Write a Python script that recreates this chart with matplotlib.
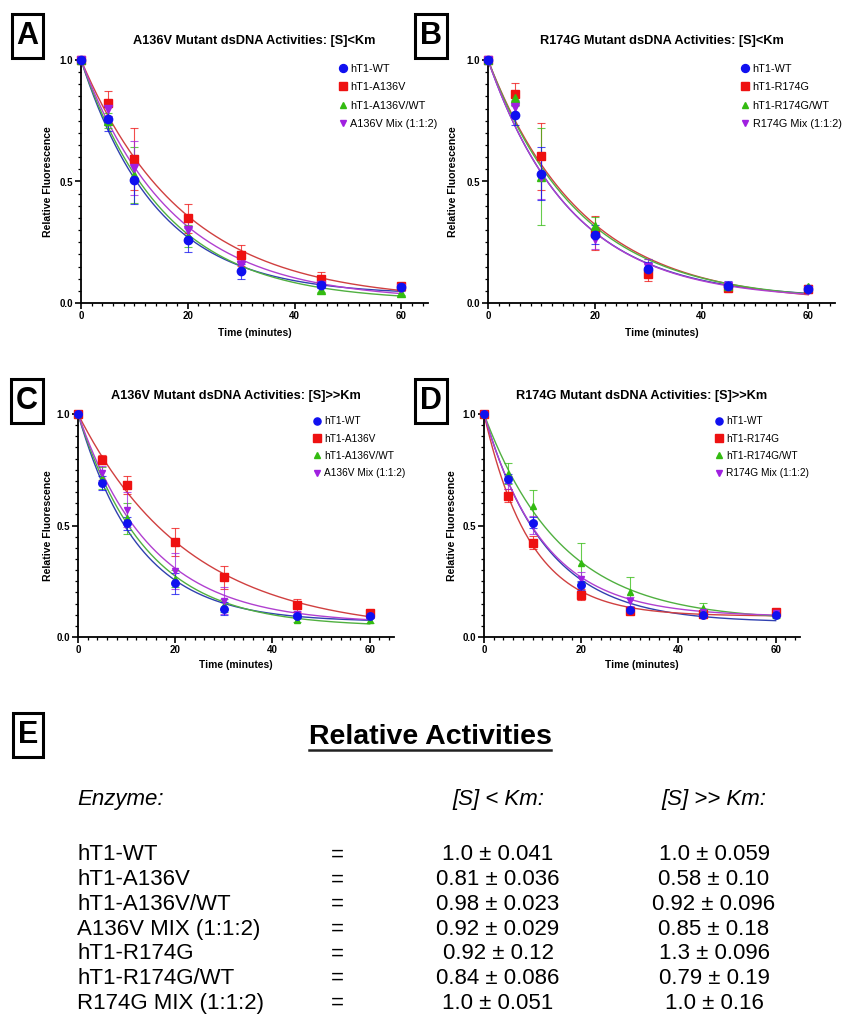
import numpy as np
import matplotlib
matplotlib.use("Agg")
import matplotlib.pyplot as plt
from matplotlib.patches import Rectangle
from matplotlib.lines import Line2D
from matplotlib.ticker import MultipleLocator, FormatStrFormatter

plt.rcParams['font.family'] = ['Liberation Sans', 'DejaVu Sans']

# ---------------- data ----------------
time_min = [0, 5, 10, 20, 30, 45, 60]

# Panel A: A136V, [S]<Km
A_wt = [1.0, 0.757, 0.507, 0.258, 0.130, 0.075, 0.066]
A_wt_err = [0, 0.05, 0.10, 0.05, 0.03, 0.012, 0.01]
A_mut = [1.0, 0.822, 0.593, 0.349, 0.196, 0.099, 0.068]
A_mut_err = [0, 0.052, 0.126, 0.06, 0.044, 0.027, 0.01]
A_het = [1.0, 0.750, 0.527, 0.274, 0.150, 0.055, 0.040]
A_het_err = [0, 0.03, 0.117, 0.045, 0.02, 0.01, 0.008]
A_mix = [1.0, 0.800, 0.555, 0.300, 0.157, 0.075, 0.060]
A_mix_err = [0, 0.03, 0.11, 0.05, 0.02, 0.012, 0.01]

# Panel B: R174G, [S]<Km
B_wt = [1.0, 0.774, 0.532, 0.281, 0.140, 0.071, 0.058]
B_wt_err = [0, 0.04, 0.11, 0.04, 0.03, 0.02, 0.015]
B_mut = [1.0, 0.860, 0.603, 0.288, 0.120, 0.062, 0.058]
B_mut_err = [0, 0.047, 0.137, 0.07, 0.03, 0.01, 0.01]
B_het = [1.0, 0.842, 0.520, 0.315, 0.150, 0.068, 0.066]
B_het_err = [0, 0.03, 0.20, 0.04, 0.03, 0.015, 0.01]
B_mix = [1.0, 0.805, 0.520, 0.263, 0.150, 0.068, 0.055]
B_mix_err = [0, 0.03, 0.09, 0.04, 0.03, 0.015, 0.01]

# Panel C: A136V, [S]>>Km
C_wt = [1.0, 0.690, 0.510, 0.240, 0.127, 0.094, 0.093]
C_wt_err = [0, 0.03, 0.03, 0.045, 0.03, 0.01, 0.01]
C_mut = [1.0, 0.795, 0.682, 0.427, 0.267, 0.142, 0.108]
C_mut_err = [0, 0.02, 0.04, 0.063, 0.053, 0.03, 0.01]
C_het = [1.0, 0.712, 0.532, 0.262, 0.142, 0.078, 0.075]
C_het_err = [0, 0.05, 0.068, 0.04, 0.03, 0.01, 0.01]
C_mix = [1.0, 0.735, 0.570, 0.297, 0.162, 0.105, 0.096]
C_mix_err = [0, 0.03, 0.078, 0.08, 0.06, 0.01, 0.01]

# Panel D: R174G, [S]>>Km
D_wt = [1.0, 0.709, 0.513, 0.232, 0.120, 0.097, 0.097]
D_wt_err = [0, 0.02, 0.025, 0.02, 0.01, 0.008, 0.008]
D_mut = [1.0, 0.634, 0.423, 0.190, 0.115, 0.105, 0.112]
D_mut_err = [0, 0.03, 0.03, 0.025, 0.01, 0.01, 0.01]
D_het = [1.0, 0.732, 0.588, 0.333, 0.202, 0.130, 0.097]
D_het_err = [0, 0.048, 0.069, 0.087, 0.067, 0.023, 0.01]
D_mix = [1.0, 0.694, 0.502, 0.262, 0.160, 0.112, 0.108]
D_mix_err = [0, 0.03, 0.04, 0.03, 0.02, 0.01, 0.01]

labels_A = ['hT1-WT', 'hT1-A136V', 'hT1-A136V/WT', 'A136V Mix (1:1:2)']
labels_R = ['hT1-WT', 'hT1-R174G', 'hT1-R174G/WT', 'R174G Mix (1:1:2)']

titles = ['A136V Mutant dsDNA Activities: [S]<Km',
          'R174G Mutant dsDNA Activities: [S]<Km',
          'A136V Mutant dsDNA Activities: [S]>>Km',
          'R174G Mutant dsDNA Activities: [S]>>Km']

# table (panel E)
table_enzymes = ['hT1-WT', 'hT1-A136V', 'hT1-A136V/WT', 'A136V MIX (1:1:2)',
                 'hT1-R174G', 'hT1-R174G/WT', 'R174G MIX (1:1:2)']
table_low = ['1.0 ± 0.041', '0.81 ± 0.036', '0.98 ± 0.023', '0.92 ± 0.029',
             '0.92 ± 0.12', '0.84 ± 0.086', '1.0 ± 0.051']
table_high = ['1.0 ± 0.059', '0.58 ± 0.10', '0.92 ± 0.096', '0.85 ± 0.18',
              '1.3 ± 0.096', '0.79 ± 0.19', '1.0 ± 0.16']

# ---------------- style ----------------
colors = ['#1010F0', '#EE1111', '#33BB11', '#A020E0']
curve_colors = ['#3040B0', '#D04040', '#50B040', '#B040D0']
markers = ['o', 's', '^', 'v']

W, H = 846, 1017
fig = plt.figure(figsize=(W / 100, H / 100), dpi=100)


def fx(x):
    return x / W


def fy(y):
    return 1 - y / H


def fit_decay(t, y):
    """One-phase decay from 1.0 to a plateau p >= 0, least squares."""
    t = np.asarray(t, float)
    y = np.asarray(y, float)
    best = None
    for k in np.linspace(0.005, 0.4, 2000):
        e = np.exp(-k * t)
        d = 1 - e
        p = max(0.0, np.sum((y - e) * d) / np.sum(d * d))
        r = np.sum((e + p * d - y) ** 2)
        if best is None or r < best[0]:
            best = (r, k, p)
    return best[1], best[2]


def make_panel(rect, series, errs, labels, title, msize, fs_leg, leg_xy, leg_sp, ylab_x):
    ax = fig.add_axes(rect)
    tt = np.linspace(0, 60, 300)
    order = [1, 2, 3, 0]
    for i in order:
        k, p = fit_decay(time_min, series[i])
        ax.plot(tt, p + (1 - p) * np.exp(-k * tt), color=curve_colors[i], lw=1.0,
                zorder=2 + i * 0.1, clip_on=False)
    for i in order:
        z = 3 + (0.5 if i == 0 else i * 0.1)
        ax.errorbar(time_min, series[i], yerr=errs[i], fmt='none', ecolor=colors[i],
                    elinewidth=0.8, capsize=3, capthick=0.8, alpha=0.75, zorder=z,
                    clip_on=False)
    handles = []
    for i in order:
        z = 4 + (0.5 if i == 0 else i * 0.1)
        ms = msize * (0.85 if markers[i] in ('^', 'v') else 1.0)
        ax.plot(time_min, series[i], linestyle='none', marker=markers[i], ms=ms,
                color=colors[i], mec=colors[i], zorder=z, clip_on=False)
    for i in range(4):
        ms = msize * (0.85 if markers[i] in ('^', 'v') else 1.0)
        handles.append(Line2D([], [], linestyle='none', marker=markers[i], ms=ms * 0.95,
                              color=colors[i], label=labels[i]))
    ax.set_xlim(0, 65)
    ax.set_ylim(0, 1.0)
    for s in ['top', 'right']:
        ax.spines[s].set_visible(False)
    for s in ['left', 'bottom']:
        ax.spines[s].set_linewidth(1.3)
    ax.xaxis.set_major_locator(MultipleLocator(20))
    ax.xaxis.set_minor_locator(MultipleLocator(2))
    ax.yaxis.set_major_locator(MultipleLocator(0.5))
    ax.yaxis.set_minor_locator(MultipleLocator(0.05))
    ax.yaxis.set_major_formatter(FormatStrFormatter('%.1f'))
    ax.tick_params(which='major', direction='out', length=4, width=1.2, pad=1.5,
                   labelsize=7)
    ax.tick_params(which='minor', direction='out', length=2.3, width=0.9)
    for lab in ax.get_xticklabels() + ax.get_yticklabels():
        lab.set_fontweight('bold')
    ax.set_ylabel('Relative Fluorescence', fontsize=7.6, fontweight='bold')
    ax.set_xlabel('Time (minutes)', fontsize=7.4, fontweight='bold')
    ax.yaxis.set_label_coords(ylab_x, 0.5)
    ax.xaxis.set_label_coords(0.5, -0.103)
    ax.text(0.5, 1.08, title, transform=ax.transAxes, ha='center', va='center',
            fontsize=9.2, fontweight='bold')
    ax.legend(handles=handles, loc='upper left', bbox_to_anchor=leg_xy, frameon=False,
              fontsize=fs_leg, handlelength=0.8, handletextpad=0.3, borderpad=0,
              borderaxespad=0, labelspacing=leg_sp)
    return ax


def panel_box(x0, y0, x1, y1, letter, fs=22):
    fig.patches.append(Rectangle((fx(x0), fy(y1)), fx(x1) - fx(x0), fy(y0) - fy(y1),
                                 transform=fig.transFigure, fill=False, ec='black',
                                 lw=2.2))
    fig.text(fx((x0 + x1) / 2), fy((y0 + y1) / 2), letter, ha='center', va='center',
             fontsize=fs, fontweight='bold')


# axes rects (left, bottom, width, height) in figure fraction
rectA = [fx(81), fy(303), fx(428) - fx(81), fy(60) - fy(303)]
rectB = [fx(488), fy(303), fx(835) - fx(488), fy(60) - fy(303)]
rectC = [fx(78), fy(637), fx(394) - fx(78), fy(414) - fy(637)]
rectD = [fx(484), fy(637), fx(800) - fx(484), fy(414) - fy(637)]

make_panel(rectA, [A_wt, A_mut, A_het, A_mix], [A_wt_err, A_mut_err, A_het_err, A_mix_err],
           labels_A, titles[0], 6.0, 7.8, (0.742, 0.985), 0.78, -0.081)
make_panel(rectB, [B_wt, B_mut, B_het, B_mix], [B_wt_err, B_mut_err, B_het_err, B_mix_err],
           labels_R, titles[1], 6.0, 7.8, (0.728, 0.985), 0.78, -0.086)
make_panel(rectC, [C_wt, C_mut, C_het, C_mix], [C_wt_err, C_mut_err, C_het_err, C_mix_err],
           labels_A, titles[2], 5.4, 7.3, (0.744, 0.99), 0.72, -0.079)
make_panel(rectD, [D_wt, D_mut, D_het, D_mix], [D_wt_err, D_mut_err, D_het_err, D_mix_err],
           labels_R, titles[3], 5.4, 7.3, (0.731, 0.99), 0.72, -0.085)

panel_box(12, 14, 43, 58, 'A')
panel_box(415, 14, 447, 58, 'B')
panel_box(11, 379, 43, 423, 'C')
panel_box(415, 379, 447, 423, 'D')
panel_box(13, 713, 43, 757, 'E')

# ---------------- panel E: table ----------------
t_title = fig.text(fx(430), fy(737), 'Relative Activities', ha='center', va='center',
                   fontsize=20.5, fontweight='bold')
fig.text(fx(77), fy(800), 'Enzyme:', ha='left', va='center', fontsize=16, style='italic')
fig.text(fx(498), fy(800), '[S] < Km:', ha='center', va='center', fontsize=16, style='italic')
fig.text(fx(714), fy(800), '[S] >> Km:', ha='center', va='center', fontsize=16, style='italic')
row_y0, row_dy = 855, 24.7
for i, (en, lo, hi) in enumerate(zip(table_enzymes, table_low, table_high)):
    yy = fy(row_y0 + i * row_dy)
    fig.text(fx(77), yy, en, ha='left', va='center', fontsize=16)
    fig.text(fx(337), yy, '=', ha='center', va='center', fontsize=16)
    fig.text(fx(498), yy, lo, ha='center', va='center', fontsize=16)
    fig.text(fx(714), yy, hi, ha='center', va='center', fontsize=16)

fig.canvas.draw()
bb = t_title.get_window_extent(fig.canvas.get_renderer())
fig.add_artist(Line2D([bb.x0 / W, bb.x1 / W], [fy(750), fy(750)], transform=fig.transFigure,
                      color='#222222', lw=1.8))

fig.savefig('out.png', dpi=100, facecolor='white')
